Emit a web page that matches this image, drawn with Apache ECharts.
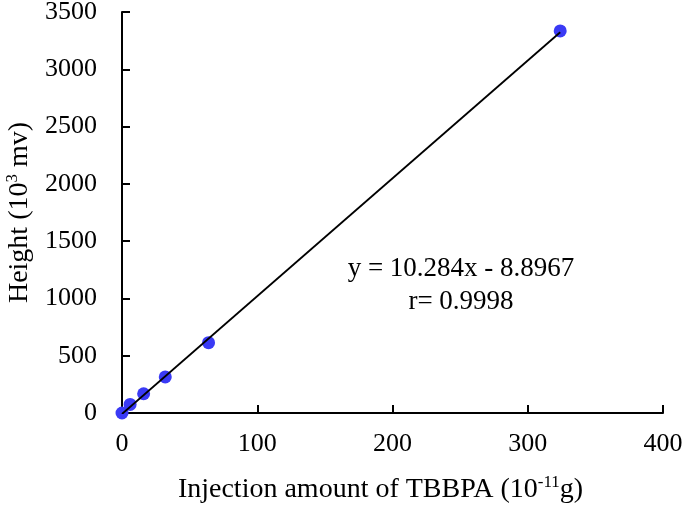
<!DOCTYPE html>
<html><head><meta charset="utf-8">
<script src="https://cdn.jsdelivr.net/npm/echarts@6/dist/echarts.min.js"></script>
<style>html,body{margin:0;padding:0;background:#fff}#c{width:685px;height:506px}</style>
</head><body><div id="c"></div>
<script>
const xValues = [0, 6, 16, 32, 64, 324];
const yValues = [0, 75, 168, 315, 614, 3335];
const trendX = [0, 324];
const trendY = [-8.9, 3323];
const xTicks = [0, 100, 200, 300, 400];
const yTicks = [0, 500, 1000, 1500, 2000, 2500, 3000, 3500];
const equationText = 'y = 10.284x - 8.8967';
const rText = 'r= 0.9998';

const font = 'Liberation Serif, Times New Roman, serif';
const chart = echarts.init(document.getElementById('c'));
chart.setOption({
  animation: false,
  backgroundColor: '#fff',
  grid: {left: 122, right: 22, top: 12, bottom: 93, outerBoundsMode: 'none', containLabel: false},
  xAxis: {
    type: 'value', min: xTicks[0], max: xTicks[xTicks.length-1], interval: 100,
    axisLine: {lineStyle: {color: '#000', width: 2}},
    axisTick: {inside: true, length: 8, lineStyle: {color: '#000', width: 2}},
    splitLine: {show: false},
    axisLabel: {color: '#000', fontFamily: font, fontSize: 26, margin: 18, formatter: v => String(v)},
    name: '{n|Injection amount of TBBPA (10}{s|-11}{n|g)}',
    nameLocation: 'middle', nameGap: 61,
    nameTextStyle: {padding: [0, 24, 0, 0], rich: {
      n: {fontFamily: font, fontSize: 28, color: '#000', lineHeight: 32},
      s: {fontFamily: font, fontSize: 17, color: '#000', verticalAlign: 'top', padding: [0,0,10,0]}
    }}
  },
  yAxis: {
    type: 'value', min: yTicks[0], max: yTicks[yTicks.length-1], interval: 500,
    axisLine: {show: true, lineStyle: {color: '#000', width: 2}},
    axisTick: {show: true, inside: true, length: 8, lineStyle: {color: '#000', width: 2}},
    splitLine: {show: false},
    axisLabel: {color: '#000', fontFamily: font, fontSize: 26, margin: 25, formatter: v => String(v)},
    name: '{n|Height (10}{s|3}{n| mv)}',
    nameLocation: 'middle', nameGap: 82, nameRotate: 90,
    nameTextStyle: {rich: {
      n: {fontFamily: font, fontSize: 28, color: '#000', lineHeight: 32},
      s: {fontFamily: font, fontSize: 17, color: '#000', verticalAlign: 'top', padding: [0,0,10,0]}
    }}
  },
  series: [
    {
      type: 'line', data: trendX.map((x,i)=>[x, trendY[i]]), symbol: 'none',
      lineStyle: {color: '#000', width: 1.8}, z: 3
    },
    {
      type: 'scatter', data: xValues.map((x,i)=>[x, yValues[i]]), symbolSize: 13,
      itemStyle: {color: '#3a3af5', opacity: 1}, z: 2
    }
  ],
  graphic: [
    {type: 'text', x: 461, y: 269, style: {text: equationText, fontFamily: font, fontSize: 27, fill: '#000', align: 'center', verticalAlign: 'middle'}},
    {type: 'text', x: 461, y: 302, style: {text: rText, fontFamily: font, fontSize: 27, fill: '#000', align: 'center', verticalAlign: 'middle'}}
  ]
});
</script></body></html>
